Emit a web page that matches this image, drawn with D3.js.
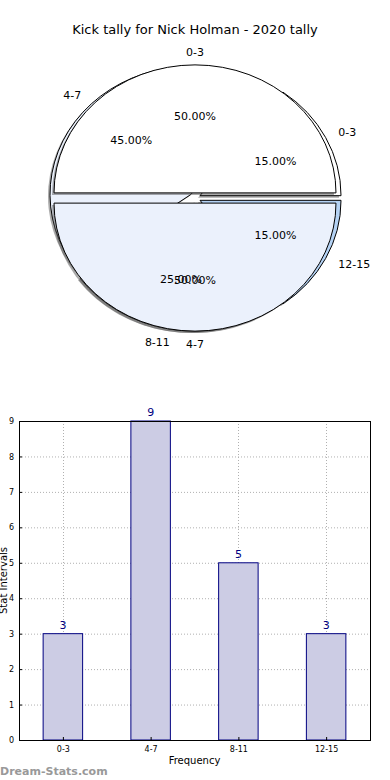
<!DOCTYPE html>
<html>
<head>
<meta charset="utf-8">
<script src="https://cdn.jsdelivr.net/npm/d3@7"></script>
<style>
	body { margin: 0; background: #fff; }
	text { font-family: "DejaVu Sans", sans-serif; }
</style>
</head>
<body>
<div id="chart"></div>
<script>
// chart data
var title = "Kick tally for Nick Holman - 2020 tally";
var categories = ["0-3", "4-7", "8-11", "12-15"];
var counts = [3, 9, 5, 3];
var pieColors = ["#ffffff", "#ebf1fc", "#ffffff", "#b4d2f4"];
// second pie drawn over the first one
var overlayLabels = ["0-3", "4-7"];
var overlayValues = [10, 10];
var overlayColors = ["#ffffff", "#ebf1fc"];
var yTicks = [0, 1, 2, 3, 4, 5, 6, 7, 8, 9];

var width = 390, height = 780;

var svg = d3.select("#chart").append("svg")
	.attr("width", width)
	.attr("height", height);

svg.append("text")
	.attr("x", 195)
	.attr("y", 34)
	.attr("text-anchor", "middle")
	.style("font-size", "13px")
	.text(title);

// ---- pie part ----
var cx = 195, cy = 198;
var r = 128;          // vertical radius
var sx = 141 / 128;   // horizontal stretch (axes not equal)
var explode = 0.04;

var arc = d3.arc().innerRadius(0).outerRadius(r);

// counter-clockwise from 3 o'clock, like the original
var pie = d3.pie().sort(null)
	.startAngle(Math.PI / 2)
	.endAngle(Math.PI / 2 - 2 * Math.PI);

var wedgeLayer = svg.append("g");
var textLayer = svg.append("g");

function offset(d, dist)
{
	var a = (d.startAngle + d.endAngle) / 2;
	return [Math.sin(a) * r * dist * sx, -Math.cos(a) * r * dist];
}

function drawPie(values, labels, colors)
{
	var total = d3.sum(values);
	var slices = pie(values);
	var g = wedgeLayer.append("g");

	// shadows first
	slices.forEach(function(d) {
		var o = offset(d, explode);
		g.append("path")
			.attr("transform", "translate(" + (cx + o[0] - 2) + "," + (cy + o[1] + 2) + ") scale(" + sx + ",1)")
			.attr("d", arc(d))
			.attr("fill", "#555")
			.attr("opacity", 0.5);
	});

	slices.forEach(function(d, i) {
		var o = offset(d, explode);
		g.append("path")
			.attr("transform", "translate(" + (cx + o[0]) + "," + (cy + o[1]) + ") scale(" + sx + ",1)")
			.attr("d", arc(d))
			.attr("fill", colors[i])
			.attr("stroke", "#000")
			.attr("stroke-width", 1)
			.attr("vector-effect", "non-scaling-stroke");
	});

	slices.forEach(function(d, i) {
		var o = offset(d, explode);
		var l = offset(d, 1.1);
		var p = offset(d, 0.6);
		var anchor = Math.abs(l[0]) < 0.5 ? "middle" : (l[0] > 0 ? "start" : "end");

		textLayer.append("text")
			.attr("x", cx + o[0] + l[0])
			.attr("y", cy + o[1] + l[1])
			.attr("dy", "0.35em")
			.attr("text-anchor", anchor)
			.style("font-size", "11px")
			.text(labels[i]);

		textLayer.append("text")
			.attr("x", cx + o[0] + p[0])
			.attr("y", cy + o[1] + p[1])
			.attr("dy", "0.35em")
			.attr("text-anchor", "middle")
			.style("font-size", "11px")
			.text((d.value / total * 100).toFixed(2) + "%");
	});
}

drawPie(counts, categories, pieColors);
drawPie(overlayValues, overlayLabels, overlayColors);

// ---- bar part ----
var plot = { left: 19, right: 370, top: 421, bottom: 740 };

var x = d3.scaleLinear()
	.domain([-0.5, categories.length - 0.5])
	.range([plot.left, plot.right]);

var y = d3.scaleLinear()
	.domain([0, 9])
	.range([plot.bottom, plot.top]);

var barWidth = x(0.45) - x(0);

var grid = svg.append("g")
	.attr("stroke", "#b0b0b0")
	.attr("stroke-dasharray", "1,2");

yTicks.forEach(function(t) {
	grid.append("line")
		.attr("x1", plot.left).attr("x2", plot.right)
		.attr("y1", y(t) + 0.5).attr("y2", y(t) + 0.5);
});
categories.forEach(function(c, i) {
	grid.append("line")
		.attr("x1", Math.round(x(i)) + 0.5).attr("x2", Math.round(x(i)) + 0.5)
		.attr("y1", plot.top).attr("y2", plot.bottom);
});

svg.selectAll(".bar")
	.data(counts)
	.enter().append("rect")
	.attr("class", "bar")
	.attr("x", function(d, i) { return x(i) - barWidth / 2; })
	.attr("y", function(d) { return y(d); })
	.attr("width", barWidth)
	.attr("height", function(d) { return y(0) - y(d); })
	.attr("fill", "#ccccE4")
	.attr("stroke", "#000080")
	.attr("stroke-width", 1);

svg.selectAll(".bar-label")
	.data(counts)
	.enter().append("text")
	.attr("class", "bar-label")
	.attr("x", function(d, i) { return x(i); })
	.attr("y", function(d) { return y(d) - 5; })
	.attr("text-anchor", "middle")
	.attr("fill", "#000080")
	.style("font-size", "11px")
	.text(function(d) { return d; });

// frame
svg.append("rect")
	.attr("x", plot.left + 0.5)
	.attr("y", plot.top + 0.5)
	.attr("width", plot.right - plot.left)
	.attr("height", plot.bottom - plot.top)
	.attr("fill", "none")
	.attr("stroke", "#000")
	.attr("stroke-width", 1);

// axes, ticks pointing inwards
var yAxis = d3.axisLeft(y).tickValues(yTicks).tickSizeInner(-3).tickSizeOuter(0).tickPadding(5);
svg.append("g")
	.attr("transform", "translate(" + plot.left + ",0)")
	.call(yAxis)
	.call(function(g) { g.select(".domain").remove(); })
	.call(function(g) { g.selectAll("text").style("font-size", "8px").style("font-family", "DejaVu Sans"); });

var xAxis = d3.axisBottom(x)
	.tickValues(d3.range(categories.length))
	.tickFormat(function(i) { return categories[i]; })
	.tickSizeInner(-3).tickSizeOuter(0).tickPadding(6);
svg.append("g")
	.attr("transform", "translate(0," + plot.bottom + ")")
	.call(xAxis)
	.call(function(g) { g.select(".domain").remove(); })
	.call(function(g) { g.selectAll("text").style("font-size", "8px").style("font-family", "DejaVu Sans"); });

svg.append("text")
	.attr("x", (plot.left + plot.right) / 2)
	.attr("y", 764)
	.attr("text-anchor", "middle")
	.style("font-size", "10px")
	.text("Frequency");

svg.append("text")
	.attr("transform", "translate(7," + ((plot.top + plot.bottom) / 2) + ") rotate(-90)")
	.attr("text-anchor", "middle")
	.style("font-size", "10px")
	.text("Stat Intervals");

svg.append("text")
	.attr("x", 0)
	.attr("y", 775)
	.attr("fill", "#999")
	.style("font-size", "11px")
	.style("font-weight", "bold")
	.text("Dream-Stats.com");
</script>
</body>
</html>
